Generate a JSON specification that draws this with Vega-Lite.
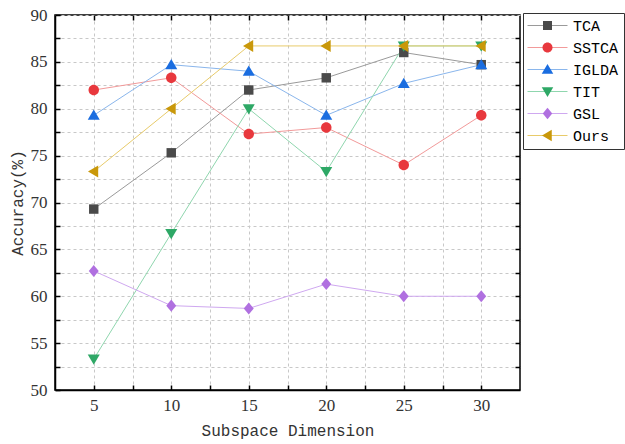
{
  "$schema": "https://vega.github.io/schema/vega-lite/v6.json",
  "width": 465,
  "height": 375,
  "autosize": {"type": "none"},
  "padding": {"left": 55, "top": 15, "right": 105, "bottom": 54},
  "background": "white",
  "config": {
    "view": {"stroke": "black", "strokeWidth": 1.5},
    "axis": {
      "domainColor": "black",
      "domainWidth": 1.5,
      "tickColor": "black",
      "tickWidth": 1.5,
      "gridColor": "#c8c8c8",
      "gridDash": [3, 3],
      "gridWidth": 1
    }
  },
  "data": {
    "values": [
      {"series": "TCA", "k": 1, "x": 5, "y": 69.3},
      {"series": "TCA", "k": 1, "x": 10, "y": 75.3},
      {"series": "TCA", "k": 1, "x": 15, "y": 82.0},
      {"series": "TCA", "k": 1, "x": 20, "y": 83.3},
      {"series": "TCA", "k": 1, "x": 25, "y": 86.0},
      {"series": "TCA", "k": 1, "x": 30, "y": 84.7},
      {"series": "SSTCA", "k": 2, "x": 5, "y": 82.0},
      {"series": "SSTCA", "k": 2, "x": 10, "y": 83.3},
      {"series": "SSTCA", "k": 2, "x": 15, "y": 77.3},
      {"series": "SSTCA", "k": 2, "x": 20, "y": 78.0},
      {"series": "SSTCA", "k": 2, "x": 25, "y": 74.0},
      {"series": "SSTCA", "k": 2, "x": 30, "y": 79.3},
      {"series": "IGLDA", "k": 3, "x": 5, "y": 79.3},
      {"series": "IGLDA", "k": 3, "x": 10, "y": 84.7},
      {"series": "IGLDA", "k": 3, "x": 15, "y": 84.0},
      {"series": "IGLDA", "k": 3, "x": 20, "y": 79.3},
      {"series": "IGLDA", "k": 3, "x": 25, "y": 82.7},
      {"series": "IGLDA", "k": 3, "x": 30, "y": 84.7},
      {"series": "TIT", "k": 4, "x": 5, "y": 53.3},
      {"series": "TIT", "k": 4, "x": 10, "y": 66.7},
      {"series": "TIT", "k": 4, "x": 15, "y": 80.0},
      {"series": "TIT", "k": 4, "x": 20, "y": 73.3},
      {"series": "TIT", "k": 4, "x": 25, "y": 86.7},
      {"series": "TIT", "k": 4, "x": 30, "y": 86.7},
      {"series": "GSL", "k": 5, "x": 5, "y": 62.7},
      {"series": "GSL", "k": 5, "x": 10, "y": 59.0},
      {"series": "GSL", "k": 5, "x": 15, "y": 58.7},
      {"series": "GSL", "k": 5, "x": 20, "y": 61.3},
      {"series": "GSL", "k": 5, "x": 25, "y": 60.0},
      {"series": "GSL", "k": 5, "x": 30, "y": 60.0},
      {"series": "Ours", "k": 6, "x": 5, "y": 73.3},
      {"series": "Ours", "k": 6, "x": 10, "y": 80.0},
      {"series": "Ours", "k": 6, "x": 15, "y": 86.7},
      {"series": "Ours", "k": 6, "x": 20, "y": 86.7},
      {"series": "Ours", "k": 6, "x": 25, "y": 86.7},
      {"series": "Ours", "k": 6, "x": 30, "y": 86.7}
    ]
  },
  "resolve": {"axis": {"x": "independent", "y": "independent"}},
  "layer": [
    {
      "mark": {"type": "line", "strokeWidth": 1},
      "encoding": {
        "x": {
          "field": "x", "type": "quantitative",
          "scale": {"domain": [2.5, 32.5], "nice": false, "zero": false},
          "axis": {
            "orient": "bottom",
            "title": "Subspace Dimension",
            "values": [5, 7.5, 10, 12.5, 15, 17.5, 20, 22.5, 25, 27.5, 30],
            "labelExpr": "datum.value % 5 == 0 ? datum.label : ''",
            "labelFont": "Liberation Serif",
            "labelFontSize": 17,
            "labelColor": "#333",
            "titleFont": "Liberation Mono",
            "titleFontSize": 16,
            "titleFontWeight": "normal",
            "titleColor": "#333",
            "tickSize": -5,
            "labelPadding": 12,
            "titlePadding": 9
          }
        },
        "y": {
          "field": "y", "type": "quantitative",
          "scale": {"domain": [50, 90], "nice": false, "zero": false},
          "axis": {
            "orient": "left",
            "title": "Accuracy(%)",
            "values": [50, 52.5, 55, 57.5, 60, 62.5, 65, 67.5, 70, 72.5, 75, 77.5, 80, 82.5, 85, 87.5, 90],
            "labelExpr": "datum.value % 5 == 0 ? datum.label : ''",
            "labelFont": "Liberation Serif",
            "labelFontSize": 17,
            "labelColor": "#333",
            "titleFont": "Liberation Mono",
            "titleFontSize": 16,
            "titleFontWeight": "normal",
            "titleColor": "#333",
            "tickSize": -5,
            "labelPadding": 13,
            "titlePadding": 5
          }
        },
        "stroke": {
          "field": "series", "type": "nominal",
          "sort": {"field": "k"},
          "scale": {"range": ["#9a9a9a", "#f29a9a", "#8ab6ec", "#8fd6ae", "#cfa8f0", "#e8cb6a"]},
          "legend": {
            "title": null,
            "orient": "none",
            "legendX": 468,
            "legendY": -2,
            "padding": 5,
            "strokeColor": "#333",
            "fillColor": "white",
            "symbolType": "M-4,0H4",
            "symbolSize": 100,
            "symbolStrokeWidth": 1,
            "symbolOffset": 12,
            "labelOffset": 18,
            "labelFont": "Liberation Mono",
            "labelFontSize": 15,
            "labelColor": "black",
            "rowPadding": 6
          }
        }
      }
    },
    {
      "mark": {"type": "point", "filled": true, "opacity": 1, "size": 110, "strokeWidth": 0},
      "encoding": {
        "x": {"field": "x", "type": "quantitative", "scale": {"domain": [2.5, 32.5], "nice": false, "zero": false},
          "axis": {"orient": "top", "title": null, "labels": false, "domain": false, "grid": false, "tickSize": -5,
            "values": [5, 7.5, 10, 12.5, 15, 17.5, 20, 22.5, 25, 27.5, 30]}},
        "y": {"field": "y", "type": "quantitative", "scale": {"domain": [50, 90], "nice": false, "zero": false},
          "axis": {"orient": "right", "title": null, "labels": false, "domain": false, "grid": false, "tickSize": -5,
            "values": [52.5, 55, 57.5, 60, 62.5, 65, 67.5, 70, 72.5, 75, 77.5, 80, 82.5, 85, 87.5]}},
        "fill": {
          "field": "series", "type": "nominal",
          "scale": {"domain": ["TCA", "SSTCA", "IGLDA", "TIT", "GSL", "Ours"],
                    "range": ["#4a4a4a", "#e8383d", "#1a6de0", "#2ea866", "#b070e0", "#c9980a"]},
          "legend": {
            "title": null,
            "orient": "none",
            "legendX": 468,
            "legendY": -2,
            "padding": 5,
            "symbolSize": 100,
            "symbolStrokeWidth": 0,
            "symbolOffset": 12,
            "labelOffset": 18,
            "labelFont": "Liberation Mono",
            "labelFontSize": 15,
            "labelColor": "rgba(0,0,0,0)",
            "rowPadding": 6
          }
        },
        "shape": {
          "field": "series", "type": "nominal",
          "scale": {"domain": ["TCA", "SSTCA", "IGLDA", "TIT", "GSL", "Ours"],
                    "range": [
                      "M-0.9,-0.9H0.9V0.9H-0.9Z",
                      "M-1,0A1,1,0,1,1,1,0A1,1,0,1,1,-1,0Z",
                      "M0,-1.1L1.15,0.85L-1.15,0.85Z",
                      "M0,1.1L1.15,-0.85L-1.15,-0.85Z",
                      "M0,-1.15L0.95,0L0,1.15L-0.95,0Z",
                      "M-1.1,0L0.85,-1.15L0.85,1.15Z"
                    ]}
        }
      }
    }
  ]
}
